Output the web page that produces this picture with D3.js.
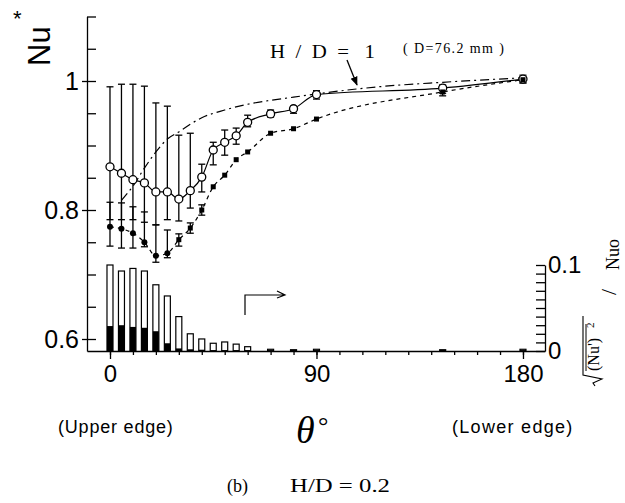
<!DOCTYPE html>
<html>
<head>
<meta charset="utf-8">
<script src="https://cdn.jsdelivr.net/npm/d3@7"></script>
<style>
  body { margin: 0; background: #fff; }
  svg { display: block; }
  .axis path, .axis line { stroke: #000; stroke-width: 1.3; }
  .axis text { font-family: "Liberation Sans", Arial, sans-serif; fill: #000; }
</style>
</head>
<body>
<script>
// angle around the cylinder, degrees
var thetaPts = [0, 5, 10, 15, 20, 25, 30, 35, 40, 45, 50, 55, 60, 70, 80, 90, 145, 180];

// open circles, solid line (Nu*)
var openNu  = [0.867, 0.857, 0.847, 0.842, 0.828, 0.828, 0.817, 0.830, 0.851, 0.893, 0.905, 0.915, 0.936, 0.949, 0.957, 0.979, 0.989, 1.003];
var openHi  = [0.991, 0.995, 0.995, 0.992, 0.966, 0.961, 0.916, 0.919, 0.871, 0.905, 0.924, 0.927, 0.947, 0.955, 0.961, 0.985, 0.994, 1.009];
var openLo  = [0.785, 0.785, 0.785, 0.781, 0.777, 0.785, 0.783, 0.803, 0.828, 0.870, 0.885, 0.902, 0.929, 0.944, 0.950, 0.972, 0.981, 0.997];

// filled circles (0-25) / filled squares (30-180), dashed line
var fillNu  = [0.774, 0.771, 0.764, 0.750, 0.729, 0.733, 0.754, 0.772, 0.800, 0.836, 0.854, 0.878, 0.890, 0.919, 0.926, 0.941, 0.983, 1.002];
var fillHi  = [0.812, 0.811, 0.805, 0.797, 0.777, 0.769, 0.763, 0.780, 0.808, 0.836, 0.854, 0.878, 0.890, 0.919, 0.926, 0.941, 0.988, 1.006];
var fillLo  = [0.744, 0.741, 0.741, 0.743, 0.719, 0.726, 0.744, 0.764, 0.792, 0.836, 0.854, 0.878, 0.890, 0.919, 0.926, 0.941, 0.977, 0.997];

// rms fluctuation bars (right axis)
var rmsOpen = [0.100, 0.093, 0.096, 0.093, 0.077, 0.064, 0.040, 0.020, 0.014, 0.009, 0.0105, 0.008, 0.005, 0.002, 0.0015, 0.002, 0.0015, 0.002];
var rmsFill = [0.029, 0.030, 0.028, 0.027, 0.023, 0.009, 0.003, 0.002, 0.0015, 0.001, 0.001, 0.001, 0.001, 0.001, 0.001, 0.001, 0.001, 0.001];

// H/D = 1 reference curve, dash-dot
var refTheta = [5, 10, 15, 20, 25, 30, 35, 40, 50, 60, 70, 80, 90, 117, 145, 180];
var refNu    = [0.815, 0.837, 0.865, 0.890, 0.910, 0.921, 0.933, 0.943, 0.955, 0.964, 0.970, 0.975, 0.980, 0.991, 0.998, 1.005];

var leftTicks  = [0.6, 0.65, 0.7, 0.75, 0.8, 0.85, 0.9, 0.95, 1, 1.05, 1.1];
var leftLabels = [0.6, 0.8, 1];
var xMinor = d3.range(0, 181, 10);
var xMajor = [0, 90, 180];
var rightTicks = d3.range(0, 0.1001, 0.01);

var width = 625, height = 503;
var svg = d3.select("body").append("svg").attr("width", width).attr("height", height);

var x  = d3.scaleLinear().domain([-10.02, 189.6]).range([87, 545]);
var y  = d3.scaleLinear().domain([0.5814, 1.1]).range([351, 16.5]);
var yR = d3.scaleLinear().domain([0, 0.1]).range([351, 265]);

var pts = thetaPts.map(function(t, i){
  return {t: t, o: openNu[i], oh: openHi[i], ol: openLo[i],
          f: fillNu[i], fh: fillHi[i], fl: fillLo[i],
          ro: rmsOpen[i], rf: rmsFill[i]};
});

// bars
var bw = 6;
svg.append("g").selectAll("rect").data(pts).enter().append("rect")
  .attr("x", function(d){ return x(d.t) - bw/2; })
  .attr("y", function(d){ return yR(d.ro); })
  .attr("width", bw)
  .attr("height", function(d){ return yR(0) - yR(d.ro); })
  .attr("fill", "#fff").attr("stroke", "#000").attr("stroke-width", 1.2);
svg.append("g").selectAll("rect").data(pts).enter().append("rect")
  .attr("x", function(d){ return x(d.t) - bw/2; })
  .attr("y", function(d){ return yR(d.rf); })
  .attr("width", bw)
  .attr("height", function(d){ return yR(0) - yR(d.rf); })
  .attr("fill", "#000");

// axes
svg.append("g").attr("class", "axis").attr("transform", "translate(87,0)")
  .call(d3.axisRight(y).tickValues(leftTicks).tickSize(9).tickSizeOuter(0).tickFormat(""));
var la = svg.append("g").attr("class", "axis").attr("transform", "translate(87,0)")
  .call(d3.axisLeft(y).tickValues(leftLabels).tickSize(5).tickPadding(3).tickFormat(d3.format("")));
la.select(".domain").remove();
la.selectAll("text").style("font-size", "25px");

svg.append("g").attr("class", "axis").attr("transform", "translate(0,351)")
  .call(d3.axisBottom(x).tickValues(xMinor).tickSize(4).tickSizeOuter(0).tickFormat(""));
var xa = svg.append("g").attr("class", "axis").attr("transform", "translate(0,351)")
  .call(d3.axisBottom(x).tickValues(xMajor).tickSize(8).tickPadding(6));
xa.select(".domain").remove();
xa.selectAll("text").style("font-size", "24px");

svg.append("g").attr("class", "axis").attr("transform", "translate(545,0)")
  .call(d3.axisLeft(yR).tickValues(rightTicks).tickSize(9).tickSizeOuter(0).tickFormat(""));
var ra2 = svg.append("g").attr("class", "axis").attr("transform", "translate(545,0)")
  .call(d3.axisRight(yR).tickValues([0, 0.1]).tickSize(0).tickPadding(3).tickFormat(d3.format("")));
ra2.select(".domain").remove();
ra2.selectAll("text").style("font-size", "24px");

// reference curve H/D = 1
var refData = refTheta.map(function(t, i){ return [t, refNu[i]]; });
svg.append("path").datum(refData)
  .attr("d", d3.line().x(function(d){ return x(d[0]); }).y(function(d){ return y(d[1]); }).curve(d3.curveMonotoneX))
  .attr("fill", "none").attr("stroke", "#000").attr("stroke-width", 1.2)
  .attr("stroke-dasharray", "9,4,2,4");

// lines through series
svg.append("path").datum(pts)
  .attr("d", d3.line().x(function(d){ return x(d.t); }).y(function(d){ return y(d.o); }).curve(d3.curveMonotoneX))
  .attr("fill", "none").attr("stroke", "#000").attr("stroke-width", 1.2);
svg.append("path").datum(pts)
  .attr("d", d3.line().x(function(d){ return x(d.t); }).y(function(d){ return y(d.f); }).curve(d3.curveMonotoneX))
  .attr("fill", "none").attr("stroke", "#000").attr("stroke-width", 1.2)
  .attr("stroke-dasharray", "4,4");

// error bars
function errBars(hiKey, loKey){
  var g = svg.append("g").attr("stroke", "#000").attr("stroke-width", 1.3);
  var sel = g.selectAll("g").data(pts.filter(function(d){ return d[hiKey] !== d[loKey]; })).enter().append("g");
  sel.append("line")
    .attr("x1", function(d){ return x(d.t); }).attr("x2", function(d){ return x(d.t); })
    .attr("y1", function(d){ return y(d[hiKey]); }).attr("y2", function(d){ return y(d[loKey]); });
  [hiKey, loKey].forEach(function(k){
    sel.append("line")
      .attr("x1", function(d){ return x(d.t) - 3.5; }).attr("x2", function(d){ return x(d.t) + 3.5; })
      .attr("y1", function(d){ return y(d[k]); }).attr("y2", function(d){ return y(d[k]); });
  });
}
errBars("oh", "ol");
errBars("fh", "fl");

// markers
svg.append("g").selectAll("circle").data(pts).enter().append("circle")
  .attr("cx", function(d){ return x(d.t); }).attr("cy", function(d){ return y(d.o); })
  .attr("r", 4).attr("fill", "#fff").attr("stroke", "#000").attr("stroke-width", 1.3);
svg.append("g").selectAll("circle").data(pts.filter(function(d){ return d.t < 30; })).enter().append("circle")
  .attr("cx", function(d){ return x(d.t); }).attr("cy", function(d){ return y(d.f); })
  .attr("r", 3).attr("fill", "#000");
svg.append("g").selectAll("rect").data(pts.filter(function(d){ return d.t >= 30; })).enter().append("rect")
  .attr("x", function(d){ return x(d.t) - 2.5; }).attr("y", function(d){ return y(d.f) - 2.5; })
  .attr("width", 5).attr("height", 5).attr("fill", "#000");

// labels
var sans = "'Liberation Sans', Arial, sans-serif";
var serif = "'Liberation Serif', 'Times New Roman', serif";

svg.append("text").attr("transform", "translate(50,66) rotate(-90)")
  .attr("font-family", sans).attr("font-size", 31).text("Nu");
svg.append("text").attr("x", 13).attr("y", 26)
  .attr("font-family", sans).attr("font-size", 22).text("*");

svg.append("text").attr("x", 270).attr("y", 58).attr("font-family", serif).attr("font-size", 18)
  .style("white-space", "pre").attr("textLength", 105).attr("lengthAdjust", "spacingAndGlyphs")
  .text("H  /  D  =   1");
svg.append("text").attr("x", 403).attr("y", 53).attr("font-family", serif).attr("font-size", 14)
  .attr("letter-spacing", 1.4).text("( D=76.2 mm )");

svg.append("defs").append("marker").attr("id", "ah").attr("viewBox", "0 0 10 10")
  .attr("refX", 9).attr("refY", 5).attr("markerWidth", 7).attr("markerHeight", 7).attr("orient", "auto")
  .append("path").attr("d", "M0,1 L10,5 L0,9 Z").attr("fill", "#000");
svg.append("line").attr("x1", 347).attr("y1", 60).attr("x2", 357).attr("y2", 85)
  .attr("stroke", "#000").attr("stroke-width", 1.3).attr("marker-end", "url(#ah)");

// bent arrow pointing to right axis
svg.append("path").attr("d", "M245,315 L245,295 L284,295 M277,291 L285,295 L277,298")
  .attr("fill", "none").attr("stroke", "#000").attr("stroke-width", 1.2);

svg.append("text").attr("x", 58).attr("y", 433).attr("font-family", sans).attr("font-size", 18)
  .attr("letter-spacing", 0.8).text("(Upper edge)");
svg.append("text").attr("x", 452).attr("y", 433).attr("font-family", sans).attr("font-size", 18)
  .attr("letter-spacing", 1.3).text("(Lower edge)");

svg.append("text").attr("x", 296).attr("y", 443).attr("font-family", serif).attr("font-style", "italic")
  .attr("font-size", 38).text("θ");
svg.append("text").attr("x", 318).attr("y", 434).attr("font-family", serif)
  .attr("font-size", 26).text("°");

svg.append("text").attr("x", 227).attr("y", 492).attr("font-family", serif).attr("font-size", 18).text("(b)");
svg.append("text").attr("x", 290).attr("y", 492).attr("font-family", serif).attr("font-size", 18)
  .attr("textLength", 100).attr("lengthAdjust", "spacingAndGlyphs").text("H/D = 0.2");

// right axis label: sqrt(mean(Nu'^2)) / Nuo, rotated
var rl = svg.append("g").attr("transform", "translate(599,386) rotate(-90)");
rl.append("path").attr("d", "M0,-4 L3,-6 L7,3 L11,-16 L70,-16")
  .attr("fill", "none").attr("stroke", "#000").attr("stroke-width", 1.1);
rl.append("line").attr("x1", 15).attr("x2", 62).attr("y1", -13).attr("y2", -13)
  .attr("stroke", "#000").attr("stroke-width", 1);
rl.append("text").attr("x", 15).attr("y", 0).attr("font-family", serif).attr("font-size", 16).text("(Nu')");
rl.append("text").attr("x", 58).attr("y", -5).attr("font-family", serif).attr("font-size", 11).text("2");
rl.append("text").attr("x", 91).attr("y", 17).attr("font-family", serif).attr("font-size", 22).text("/");
rl.append("text").attr("x", 116).attr("y", 20).attr("font-family", serif).attr("font-size", 18).text("Nuo");
</script>
</body>
</html>
